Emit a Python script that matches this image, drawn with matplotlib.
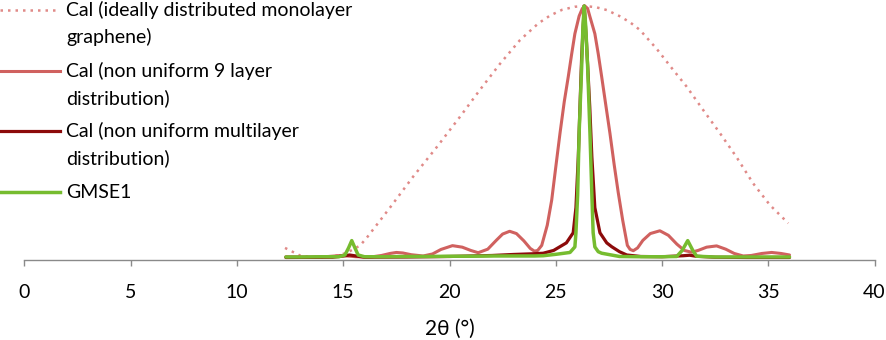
import numpy as np
import matplotlib.pyplot as plt
from matplotlib.lines import Line2D

# 2theta (deg) and normalised intensity for each pattern
mono_tt = [12.26, 12.96, 13.5, 14.2, 14.7, 15.16, 15.8, 16.15, 17.2, 18.29, 19.4,
           20.49, 21.43, 22.37, 23.32, 24.18, 24.73, 25.3, 25.9, 26.37, 26.9, 27.4,
           28.0, 28.5, 28.96, 29.75, 30.53, 31.16, 31.94, 32.73, 33.51, 34.29,
           35.08, 35.94]
mono_int = [0.04, 0.01, 0.003, 0.003, 0.01, 0.02, 0.05, 0.085, 0.2, 0.323, 0.44,
            0.56, 0.667, 0.77, 0.865, 0.931, 0.962, 0.985, 0.997, 1.0, 0.995, 0.984,
            0.96, 0.935, 0.905, 0.83, 0.746, 0.68, 0.587, 0.495, 0.40, 0.296,
            0.21, 0.138]

nine_tt = [12.3, 13.5, 14.3, 14.9, 15.6, 16.3, 16.8, 17.2, 17.5, 17.8, 18.2, 18.76,
           19.2, 19.6, 20.14, 20.6, 21.0, 21.35, 21.8, 22.2, 22.5, 22.83, 23.15,
           23.5, 23.8, 24.0, 24.15, 24.34, 24.6, 24.81, 25.0, 25.2, 25.4, 25.59,
           25.75, 25.9, 26.1, 26.25, 26.37, 26.5, 26.6, 26.84, 27.0, 27.16, 27.35,
           27.55, 27.75, 27.94, 28.15, 28.37, 28.5, 28.65, 28.85, 29.1, 29.45, 29.9,
           30.3, 30.7, 31.05, 31.39, 31.7, 32.1, 32.57, 33.0, 33.4, 33.82, 34.2,
           34.7, 35.16, 35.6, 36.0]
nine_int = [0.005, 0.003, 0.006, 0.01, 0.005, 0.004, 0.01, 0.018, 0.022, 0.02, 0.013, 0.008,
            0.016, 0.034, 0.049, 0.043, 0.03, 0.021, 0.035, 0.07, 0.095, 0.106, 0.097,
            0.068, 0.038, 0.027, 0.03, 0.05, 0.13, 0.23, 0.36, 0.495, 0.62, 0.72,
            0.81, 0.89, 0.96, 0.99, 1.0, 0.99, 0.96, 0.89, 0.81, 0.72, 0.61,
            0.495, 0.37, 0.26, 0.15, 0.05, 0.034, 0.029, 0.04, 0.07, 0.097, 0.108,
            0.09, 0.055, 0.03, 0.023, 0.03, 0.043, 0.048, 0.035, 0.018, 0.008, 0.01,
            0.018, 0.022, 0.018, 0.012]

multi_tt = [12.3, 14.5, 15.0, 15.3, 15.6, 16.0, 18.0, 20.0, 22.0, 23.0, 24.0, 24.41,
            24.9, 25.2, 25.5, 25.82, 25.95, 26.06, 26.14, 26.22, 26.34, 26.45, 26.6,
            26.7, 26.84, 27.08, 27.4, 27.63, 28.0, 28.34, 29.0, 30.0, 31.0, 31.3,
            31.6, 32.5, 34.0, 36.0]
multi_int = [0.002, 0.003, 0.008, 0.012, 0.008, 0.003, 0.004, 0.006, 0.01, 0.014, 0.017, 0.019,
             0.03, 0.045, 0.06, 0.1, 0.2, 0.4, 0.6, 0.8, 1.0, 0.85, 0.6,
             0.4, 0.2, 0.1, 0.06, 0.045, 0.025, 0.012, 0.006, 0.005, 0.009, 0.011,
             0.007, 0.003, 0.002, 0.002]

gmse_tt = [12.3, 13.0, 14.0, 14.8, 15.08, 15.25, 15.4, 15.55, 15.7, 16.0, 17.0, 18.0,
           19.0, 20.0, 21.0, 22.0, 23.0, 24.0, 24.41, 25.04, 25.67, 25.9, 25.95,
           26.03, 26.1, 26.22, 26.28, 26.34, 26.41, 26.5, 26.61, 26.7, 26.76, 26.84,
           27.0, 27.16, 28.0, 29.0, 30.0, 30.69, 30.95, 31.21, 31.45, 31.63, 32.5,
           33.5, 34.5, 35.5, 36.0]
gmse_int = [0.004, 0.004, 0.005, 0.005, 0.012, 0.04, 0.069, 0.04, 0.012, 0.005, 0.005, 0.006,
            0.006, 0.007, 0.007, 0.008, 0.008, 0.008, 0.009, 0.015, 0.022, 0.044, 0.1,
            0.25, 0.495, 0.76, 0.92, 1.0, 0.92, 0.76, 0.495, 0.25, 0.1, 0.044,
            0.025, 0.019, 0.006, 0.005, 0.005, 0.006, 0.03, 0.069, 0.03, 0.007, 0.004,
            0.004, 0.004, 0.004, 0.004]

labels = ["Cal (ideally distributed monolayer\ngraphene)",
          "Cal (non uniform 9 layer\ndistribution)",
          "Cal (non uniform multilayer\ndistribution)",
          "GMSE1"]
xticks = [0, 5, 10, 15, 20, 25, 30, 35, 40]

c_nine = "#d0615f"
c_multi = "#8c0a0a"
c_gmse = "#76bc2f"
c_axis = "#8a8a8a"
font = ["Lato", "DejaVu Sans"]

W, H = 887, 340
fig = plt.figure(figsize=(W / 100, H / 100), dpi=100)
ax = fig.add_axes([24.5 / W, 1 - 260 / H, 850 / W, 260 / H])

styles = [
    dict(color="#e08a88", lw=1.8, ls=(0, (1, 2.0))),
    dict(color=c_nine, lw=2.2, ls="-"),
    dict(color=c_multi, lw=2.3, ls="-"),
    dict(color=c_gmse, lw=2.5, ls="-"),
]
series = [(mono_tt, mono_int), (nine_tt, nine_int), (multi_tt, multi_int), (gmse_tt, gmse_int)]
for (tt, inten), st in zip(series, styles):
    ax.plot(tt, inten, clip_on=False, solid_capstyle="round",
            solid_joinstyle="round", **st)

ax.set_xlim(0, 40)
ax.set_ylim(-2 / 252, 258 / 252)
ax.set_xticks(xticks)
ax.set_xticklabels([str(t) for t in xticks], fontsize=14, family=font)
ax.set_yticks([])
for side in ("left", "top", "right"):
    ax.spines[side].set_visible(False)
ax.spines["bottom"].set_color(c_axis)
ax.spines["bottom"].set_linewidth(1.0)
ax.tick_params(axis="x", direction="out", length=4, width=1.0, color=c_axis, pad=13)
ax.set_xlabel("2θ (°)", fontsize=15, family=font, labelpad=13)

# hand-placed legend, handle lined up with the first text line
rows = [10, 71, 131, 192]
for y, label, st in zip(rows, labels, styles):
    fig.add_artist(Line2D([0, 60 / W], [1 - y / H] * 2, transform=fig.transFigure, **st))
    for k, line in enumerate(label.split("\n")):
        fig.text(66 / W, 1 - (y + 27 * k) / H, line, fontsize=14, family=font,
                 va="center", ha="left")

fig.savefig("out.png", dpi=100)
